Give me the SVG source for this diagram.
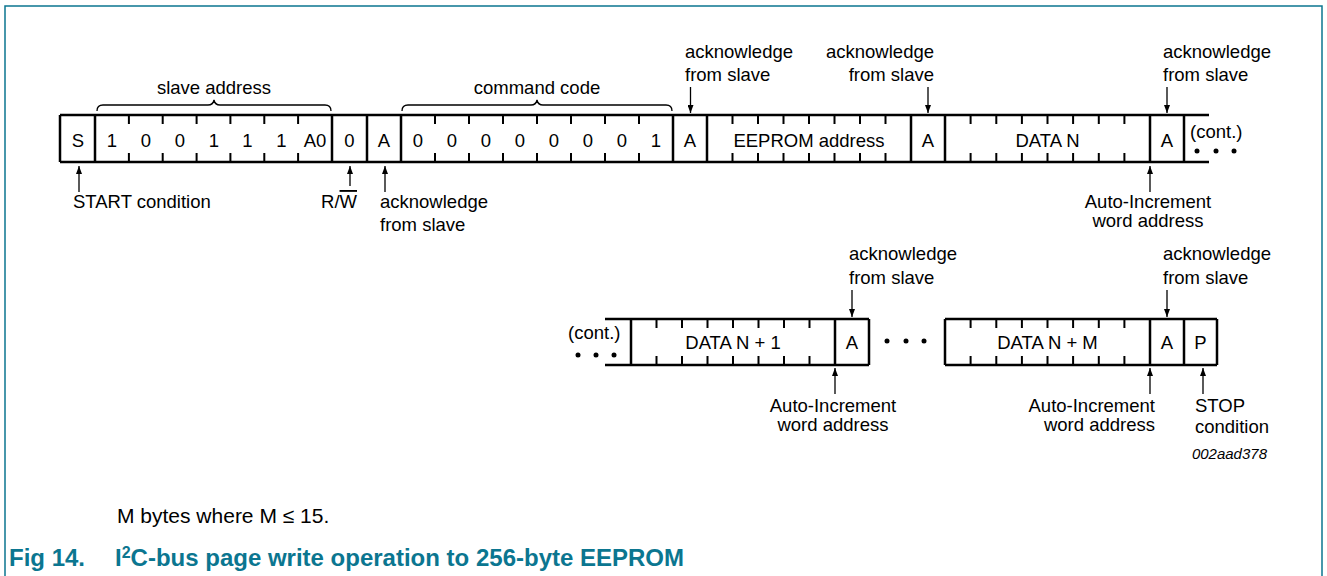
<svg xmlns="http://www.w3.org/2000/svg" width="1327" height="576" viewBox="0 0 1327 576">
<defs>
<style>
text{font-family:"Liberation Sans",Arial,sans-serif;font-size:18.5px;fill:#000}
.c{text-anchor:middle}
.e{text-anchor:end}
.box{fill:none;stroke:#000;stroke-width:2.5}
.tk{stroke:#000;stroke-width:2}
.arr{stroke:#000;stroke-width:1.3;fill:none;marker-end:url(#ah)}
.br{fill:none;stroke:#000;stroke-width:1.3}
.dot{fill:#000}
.cap{font-weight:bold;fill:#0b7690;font-size:24px}
</style>
<marker id="ah" markerWidth="8" markerHeight="6" refX="8" refY="3" orient="auto" markerUnits="userSpaceOnUse">
<path d="M0,0 L8,3 L0,6 z" fill="#000"/>
</marker>
</defs>
<rect width="1327" height="576" fill="#fff"/>
<path d="M5,576 V6 H1322 V576" fill="none" stroke="#0b7690" stroke-width="1.5"/>

<!-- Row 1 -->
<g id="row1-frame">
<path class="box" d="M60,115 H1209 M60,162 H1209 M60,115 V162 M95,115 V162 M332,115 V162 M367,115 V162 M401,115 V162 M673,115 V162 M707,115 V162 M911,115 V162 M945,115 V162 M1150,115 V162 M1184,115 V162"/>
</g>
<g id="start"><text class="c" x="78" y="146.5">S</text></g>
<g id="slave-address">
<path class="tk" d="M128.9,115V124M162.7,115V124M196.6,115V124M230.4,115V124M264.3,115V124M298.1,115V124M128.9,153V162M162.7,153V162M196.6,153V162M230.4,153V162M264.3,153V162M298.1,153V162"/>
<text class="c" x="112" y="146.5">1</text>
<text class="c" x="146" y="146.5">0</text>
<text class="c" x="180" y="146.5">0</text>
<text class="c" x="214" y="146.5">1</text>
<text class="c" x="247.5" y="146.5">1</text>
<text class="c" x="281.5" y="146.5">1</text>
<text class="c" x="315" y="146.5">A0</text>
<path class="br" d="M97,111 Q97,105 103,105 H208 Q213,105 214,100 Q215,105 220,105 H325 Q331,105 331,111"/>
<text class="c" x="214" y="94">slave address</text>
</g>
<g id="rw"><text class="c" x="349.5" y="146.5">0</text></g>
<g id="ack1"><text class="c" x="384" y="146.5">A</text></g>
<g id="command-code">
<path class="tk" d="M435,115V124M469,115V124M503,115V124M537,115V124M571,115V124M605,115V124M639,115V124M435,153V162M469,153V162M503,153V162M537,153V162M571,153V162M605,153V162M639,153V162"/>
<text class="c" x="418" y="146.5">0</text>
<text class="c" x="452" y="146.5">0</text>
<text class="c" x="486" y="146.5">0</text>
<text class="c" x="520" y="146.5">0</text>
<text class="c" x="554" y="146.5">0</text>
<text class="c" x="588" y="146.5">0</text>
<text class="c" x="622" y="146.5">0</text>
<text class="c" x="656" y="146.5">1</text>
<path class="br" d="M402,111 Q402,105 408,105 H531 Q536,105 537,100 Q538,105 543,105 H666 Q672,105 672,111"/>
<text class="c" x="537" y="94">command code</text>
</g>
<g id="ack2"><text class="c" x="690" y="146.5">A</text></g>
<g id="eeprom-address">
<path class="tk" d="M732.5,115V124M758,115V124M783.5,115V124M809,115V124M834.5,115V124M860,115V124M885.5,115V124M732.5,153V162M758,153V162M783.5,153V162M809,153V162M834.5,153V162M860,153V162M885.5,153V162"/>
<text class="c" x="809" y="146.5">EEPROM address</text>
</g>
<g id="ack3"><text class="c" x="928" y="146.5">A</text></g>
<g id="data-n">
<path class="tk" d="M970.6,115V124M996.3,115V124M1021.9,115V124M1047.5,115V124M1073.1,115V124M1098.8,115V124M1124.4,115V124M970.6,153V162M996.3,153V162M1021.9,153V162M1047.5,153V162M1073.1,153V162M1098.8,153V162M1124.4,153V162"/>
<text class="c" x="1047.5" y="146.5">DATA N</text>
</g>
<g id="ack4"><text class="c" x="1167" y="146.5">A</text></g>
<g id="cont1">
<text x="1190" y="138">(cont.)</text>
<circle class="dot" cx="1197" cy="151" r="2.5"/>
<circle class="dot" cx="1216" cy="151" r="2.5"/>
<circle class="dot" cx="1234" cy="151" r="2.5"/>
</g>

<!-- Row 2 -->
<g id="row2-frame">
<path class="box" d="M605,319 H869 M605,365 H869 M631,319 V365 M835,319 V365 M869,319 V365 M945,319 H1217 M945,365 H1217 M945,319 V365 M1150,319 V365 M1184,319 V365 M1217,319 V365"/>
</g>
<g id="cont2">
<text x="568" y="339">(cont.)</text>
<circle class="dot" cx="578" cy="355" r="2.5"/>
<circle class="dot" cx="596" cy="355" r="2.5"/>
<circle class="dot" cx="614" cy="355" r="2.5"/>
</g>
<g id="data-n1">
<path class="tk" d="M656.5,319V328M682,319V328M707.5,319V328M733,319V328M758.5,319V328M784,319V328M809.5,319V328M656.5,356V365M682,356V365M707.5,356V365M733,356V365M758.5,356V365M784,356V365M809.5,356V365"/>
<text class="c" x="733" y="348.5">DATA N + 1</text>
</g>
<g id="ack5"><text class="c" x="852" y="348.5">A</text></g>
<g id="gap-dots">
<circle class="dot" cx="887" cy="341" r="2.5"/>
<circle class="dot" cx="906" cy="341" r="2.5"/>
<circle class="dot" cx="924" cy="341" r="2.5"/>
</g>
<g id="data-nm">
<path class="tk" d="M970.6,319V328M996.3,319V328M1021.9,319V328M1047.5,319V328M1073.1,319V328M1098.8,319V328M1124.4,319V328M970.6,356V365M996.3,356V365M1021.9,356V365M1047.5,356V365M1073.1,356V365M1098.8,356V365M1124.4,356V365"/>
<text class="c" x="1047.5" y="348.5">DATA N + M</text>
</g>
<g id="ack6"><text class="c" x="1167" y="348.5">A</text></g>
<g id="stop"><text class="c" x="1200.5" y="348.5">P</text></g>

<!-- Connectors -->
<g id="connectors">
<line class="arr" x1="79" y1="192" x2="79" y2="166"/>
<line class="arr" x1="350" y1="186" x2="350" y2="166"/>
<line class="arr" x1="385" y1="192" x2="385" y2="166"/>
<line class="arr" x1="1150" y1="192" x2="1150" y2="166"/>
<line class="arr" x1="690.5" y1="87" x2="690.5" y2="113"/>
<line class="arr" x1="928" y1="87" x2="928" y2="113"/>
<line class="arr" x1="1167" y1="87" x2="1167" y2="113"/>
<line class="arr" x1="852" y1="290" x2="852" y2="317"/>
<line class="arr" x1="1167" y1="290" x2="1167" y2="317"/>
<line class="arr" x1="835" y1="394" x2="835" y2="368"/>
<line class="arr" x1="1150" y1="394" x2="1150" y2="368"/>
<line class="arr" x1="1203" y1="394" x2="1203" y2="368"/>
</g>

<!-- Labels -->
<g id="labels">
<text x="685" y="58">acknowledge</text>
<text x="685" y="81">from slave</text>
<text class="e" x="934" y="58">acknowledge</text>
<text class="e" x="934" y="81">from slave</text>
<text x="1163" y="58">acknowledge</text>
<text x="1163" y="81">from slave</text>
<text x="73" y="208">START condition</text>
<text class="e" x="357" y="208">R/<tspan style="text-decoration:overline">W</tspan></text>
<text x="380" y="208">acknowledge</text>
<text x="380" y="231">from slave</text>
<text class="c" x="1148" y="208">Auto-Increment</text>
<text class="c" x="1148" y="227">word address</text>
<text x="849" y="260">acknowledge</text>
<text x="849" y="284">from slave</text>
<text x="1163" y="260">acknowledge</text>
<text x="1163" y="284">from slave</text>
<text class="c" x="833" y="412">Auto-Increment</text>
<text class="c" x="833" y="431">word address</text>
<text class="e" x="1155" y="412">Auto-Increment</text>
<text class="e" x="1155" y="431">word address</text>
<text x="1195" y="412">STOP</text>
<text x="1195" y="433">condition</text>
<text class="e" x="1267" y="459" style="font-style:italic;font-size:15px">002aad378</text>
<text x="117" y="523" style="font-size:21px">M bytes where M ≤ 15.</text>
<text class="cap" x="9" y="566">Fig 14.</text>
<text class="cap" x="115" y="566">I<tspan style="font-size:16px" dy="-8">2</tspan><tspan dy="8">C-bus page write operation to 256-byte EEPROM</tspan></text>
</g>
</svg>
